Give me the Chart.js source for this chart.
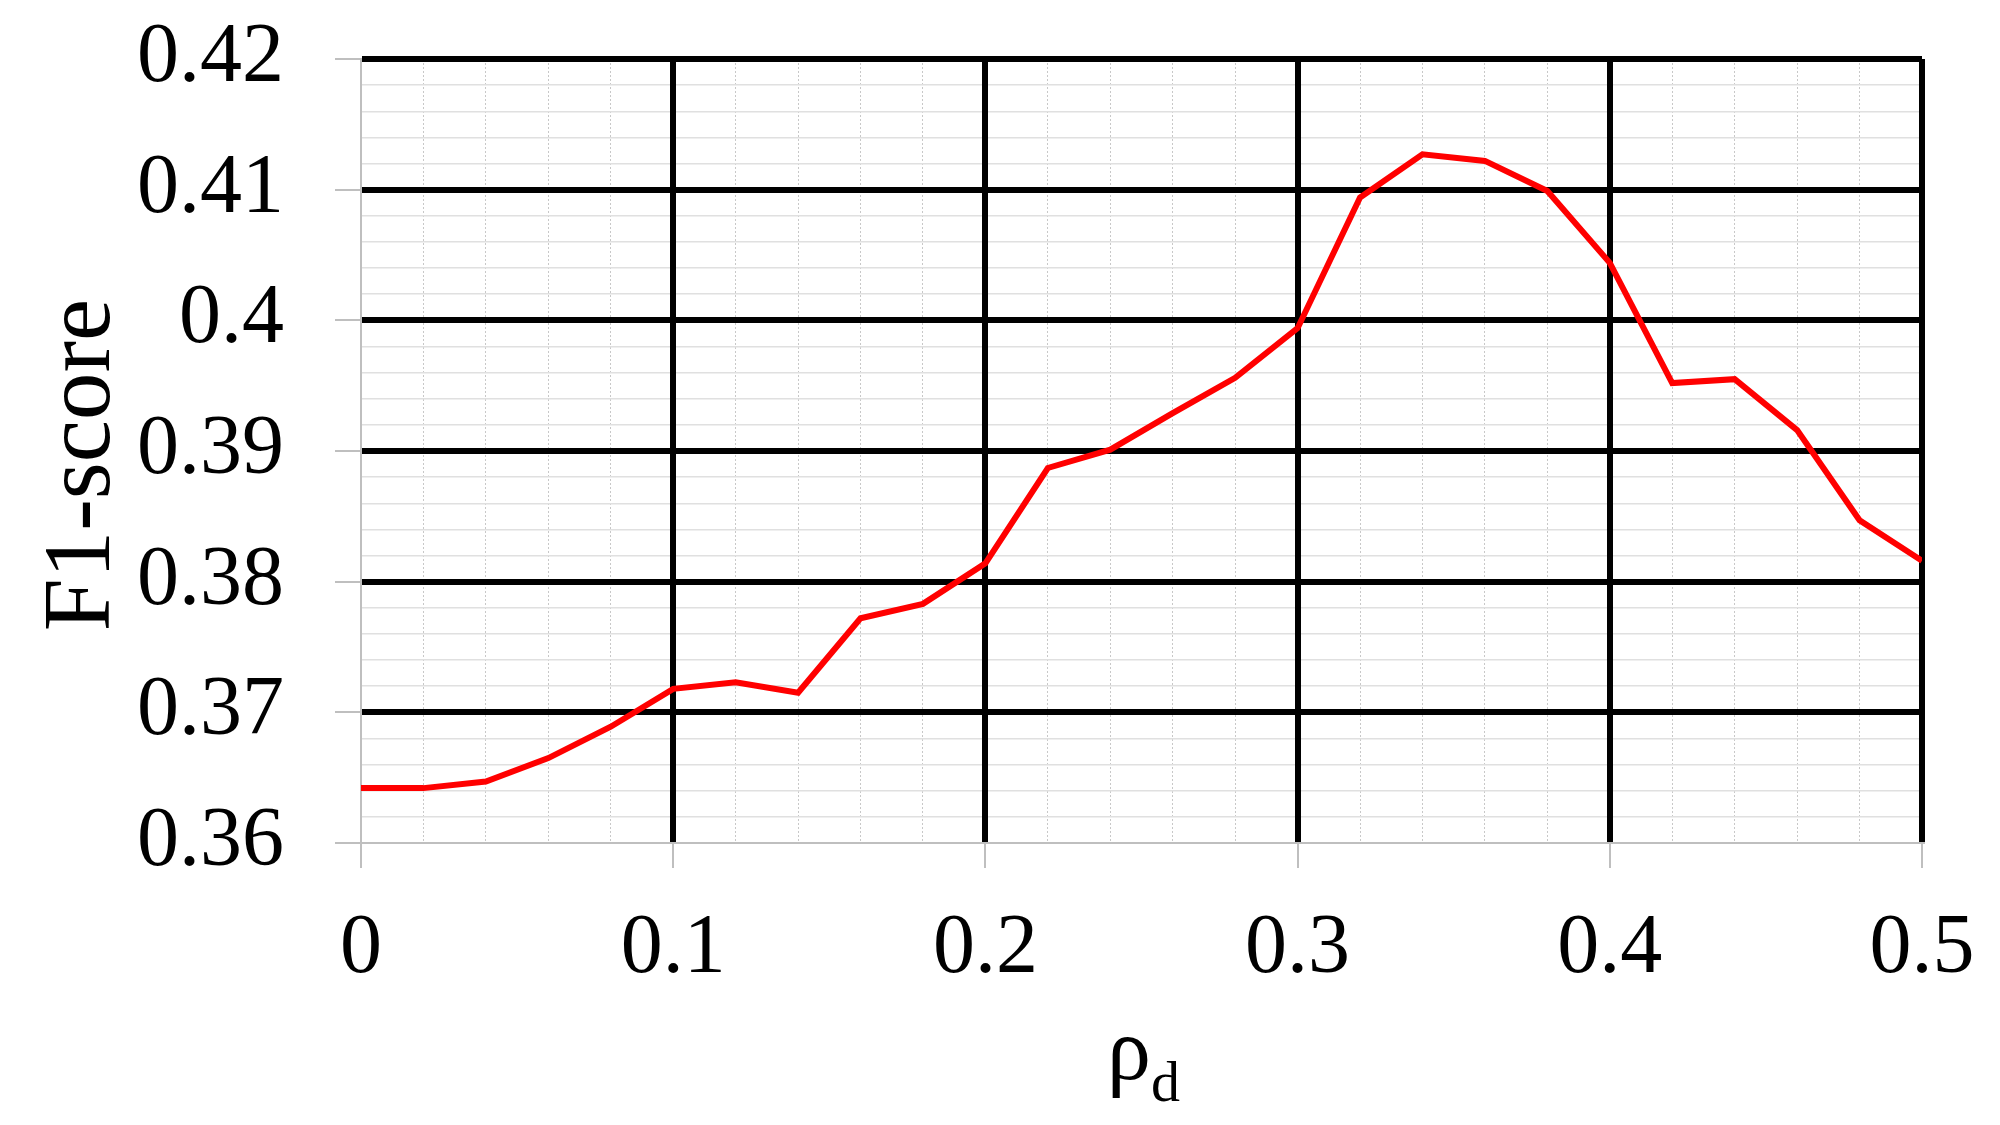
<!DOCTYPE html>
<html>
<head>
<meta charset="utf-8">
<script src="https://cdn.jsdelivr.net/npm/chart.js@4.4.1/dist/chart.umd.min.js"></script>
<style>
  html, body { margin: 0; padding: 0; background: #ffffff; }
  #wrap { width: 2000px; height: 1125px; position: relative; }
</style>
</head>
<body>
<div id="wrap"><canvas id="c" width="2000" height="1125"></canvas></div>
<script>
// ---- data ----
const rho = [0, 0.02, 0.04, 0.06, 0.08, 0.10, 0.12, 0.14, 0.16, 0.18, 0.20, 0.22, 0.24,
             0.26, 0.28, 0.30, 0.32, 0.34, 0.36, 0.38, 0.40, 0.42, 0.44, 0.46, 0.48, 0.50];
const f1 = [0.3642, 0.3642, 0.3647, 0.3665, 0.3689, 0.3718, 0.3723, 0.3715, 0.3772, 0.3783,
            0.3814, 0.3887, 0.3901, 0.3929, 0.3956, 0.3994, 0.4094, 0.4127, 0.4122, 0.4099,
            0.4044, 0.3952, 0.3955, 0.3916, 0.3847, 0.3816];
const xRange = [0, 0.5];
const yRange = [0.36, 0.42];
const yTitle = 'F1-score';
const xTitleMain = 'ρ';
const xTitleSub = 'd';

const FONT = "'Liberation Serif', 'Times New Roman', serif";
const isMult = (v, m) => Math.abs(v / m - Math.round(v / m)) < 1e-6;
const CLEAR = 'rgba(0,0,0,0)';

const points = rho.map((x, i) => ({ x: x, y: f1[i] }));

const titlesPlugin = {
  id: 'axisTitles',
  afterDraw(chart) {
    const ctx = chart.ctx;
    const area = chart.chartArea;
    ctx.save();
    ctx.fillStyle = '#000';
    // x title: rho with subscript d
    const cx = (area.left + area.right) / 2 + 2;
    const baseY = 1079;
    ctx.textBaseline = 'alphabetic';
    ctx.font = '88px ' + FONT;
    const w1 = ctx.measureText(xTitleMain).width;
    ctx.font = '58px ' + FONT;
    const w2 = ctx.measureText(xTitleSub).width;
    const start = cx - (w1 + w2) / 2;
    ctx.font = '88px ' + FONT;
    ctx.textAlign = 'left';
    ctx.fillText(xTitleMain, start, baseY);
    ctx.font = '58px ' + FONT;
    ctx.fillText(xTitleSub, start + w1, baseY + 22);
    // y title, rotated
    ctx.translate(84, (area.top + area.bottom) / 2 + 14);
    ctx.rotate(-Math.PI / 2);
    ctx.font = '95px ' + FONT;
    ctx.textAlign = 'center';
    ctx.textBaseline = 'middle';
    ctx.fillText(yTitle, 0, 0);
    ctx.restore();
  }
};

const noPad = (s) => { s.paddingTop = 0; s.paddingBottom = 0; s.paddingLeft = 0; s.paddingRight = 0; };

new Chart(document.getElementById('c'), {
  type: 'line',
  data: {
    datasets: [{
      data: points,
      xAxisID: 'x',
      yAxisID: 'y',
      borderColor: '#ff0000',
      borderWidth: 6,
      pointRadius: 0,
      tension: 0,
      fill: false
    }]
  },
  options: {
    responsive: false,
    animation: false,
    devicePixelRatio: 1,
    layout: { padding: { top: 59, right: 78, bottom: 130, left: 0 } },
    plugins: { legend: { display: false }, tooltip: { enabled: false } },
    scales: {
      // minor vertical grid (dotted)
      x2: {
        type: 'linear',
        position: 'bottom',
        z: -2,
        min: xRange[0], max: xRange[1],
        ticks: { display: false, stepSize: 0.02 },
        border: { display: false, dash: [2, 2] },
        grid: {
          drawTicks: false,
          lineWidth: 1,
          color: (c) => (isMult(c.tick.value, 0.1) ? CLEAR : '#c8c8c8')
        },
        afterFit: (s) => { s.height = 0; noPad(s); }
      },
      // minor horizontal grid
      y2: {
        type: 'linear',
        position: 'left',
        z: -2,
        min: yRange[0], max: yRange[1],
        ticks: { display: false, stepSize: 0.002 },
        border: { display: false },
        grid: {
          drawTicks: false,
          lineWidth: 1.5,
          color: (c) => (isMult(c.tick.value, 0.01) ? CLEAR : '#e0e0e0')
        },
        afterFit: (s) => { s.width = 0; noPad(s); }
      },
      x: {
        type: 'linear',
        position: 'bottom',
        z: -1,
        min: xRange[0], max: xRange[1],
        ticks: {
          stepSize: 0.1,
          padding: 32,
          maxRotation: 0,
          autoSkip: false,
          color: '#000',
          font: { family: FONT, size: 84 },
          callback: (v) => String(Math.round(v * 10) / 10)
        },
        border: { display: true, color: '#bfbfbf', width: 2 },
        grid: {
          lineWidth: 6,
          tickLength: 25,
          tickWidth: 2,
          tickColor: '#bfbfbf',
          color: (c) => (Math.abs(c.tick.value - xRange[0]) < 1e-9 ? CLEAR : '#000000')
        },
        afterFit: (s) => { s.height = 152; noPad(s); }
      },
      y: {
        type: 'linear',
        position: 'left',
        z: -1,
        min: yRange[0], max: yRange[1],
        title: { display: false },
        ticks: {
          stepSize: 0.01,
          padding: 51,
          autoSkip: false,
          color: '#000',
          font: { family: FONT, size: 84 },
          callback: (v) => String(Math.round(v * 100) / 100)
        },
        border: { display: true, color: '#bfbfbf', width: 2 },
        grid: {
          tickLength: 26,
          tickWidth: 2,
          tickColor: '#bfbfbf',
          lineWidth: 6,
          color: (c) => (Math.abs(c.tick.value - yRange[0]) < 1e-9 ? CLEAR : '#000000')
        },
        afterFit: (s) => { s.width = 361; noPad(s); }
      }
    }
  },
  plugins: [titlesPlugin]
});
</script>
</body>
</html>
